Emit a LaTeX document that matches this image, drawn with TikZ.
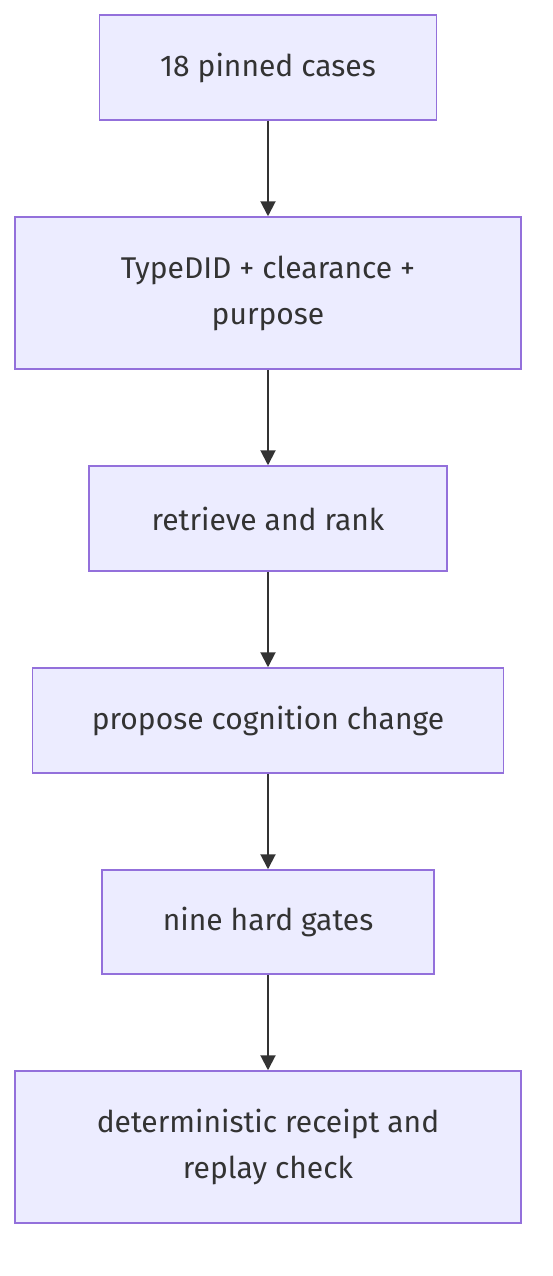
\documentclass[tikz,border=0pt]{standalone}
\usepackage{fontspec}
\setmainfont{Fira Sans}
\usetikzlibrary{arrows.meta}
\definecolor{boxfill}{HTML}{ECECFF}
\definecolor{boxline}{HTML}{9370DB}
\definecolor{ink}{HTML}{333333}
\tikzset{
  flowbox/.style={draw=boxline,fill=boxfill,line width=1.5pt,text=ink,
    align=center,inner sep=0pt,font=\fontsize{30}{46}\selectfont},
  flowarrow/.style={ink,line width=2pt,-{Triangle[length=15pt,width=15pt]}}
}
\begin{document}
\begin{tikzpicture}[x=1pt,y=-1pt]
  \useasboundingbox (0,0) rectangle (552,1276);
  \node [flowbox,minimum width=337pt,minimum height=105pt] (cases) at (268,67.5) {18 pinned cases};
  \node [flowbox,minimum width=506pt,minimum height=152pt] (typed) at (268,293) {TypeDID + clearance +\\purpose};
  \node [flowbox,minimum width=358pt,minimum height=105pt] (rank) at (268,518.5) {retrieve and rank};
  \node [flowbox,minimum width=471pt,minimum height=105pt] (propose) at (268,720.5) {propose cognition change};
  \node [flowbox,minimum width=332pt,minimum height=104pt] (gates) at (268,922) {nine hard gates};
  \node [flowbox,minimum width=506pt,minimum height=152pt] (receipt) at (268,1147) {deterministic receipt and\\replay check};
  \draw [flowarrow] (cases) -- (typed);
  \draw [flowarrow] (typed) -- (rank);
  \draw [flowarrow] (rank) -- (propose);
  \draw [flowarrow] (propose) -- (gates);
  \draw [flowarrow] (gates) -- (receipt);
\end{tikzpicture}
\end{document}
